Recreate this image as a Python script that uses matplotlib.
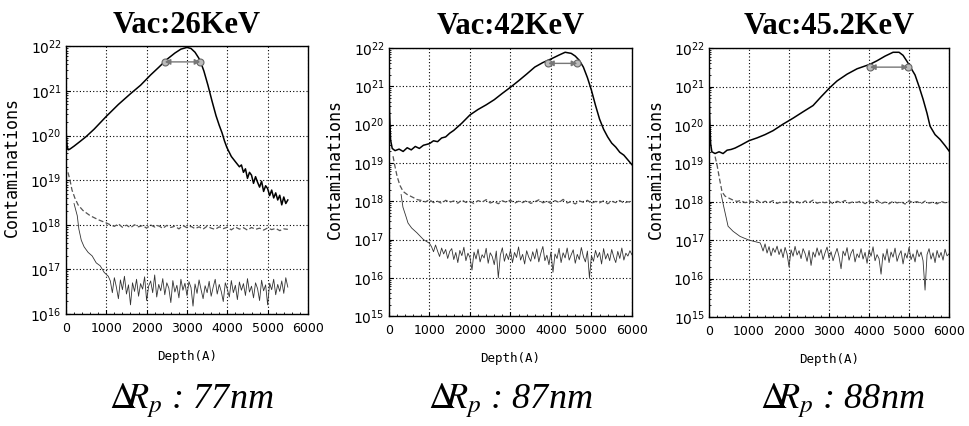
import numpy as np
from matplotlib import pyplot as plt
from matplotlib.ticker import LogLocator, NullFormatter, MultipleLocator

plt.rcParams['mathtext.fontset'] = 'stix'

# Panel texts
titles = ['Vac:26KeV', 'Vac:42KeV', 'Vac:45.2KeV']
delta_rp = ['77nm', '87nm', '88nm']
depth_ticks = [0, 1000, 2000, 3000, 4000, 5000, 6000]
y_low = [1e16, 1e15, 1e15]
y_high = 1e22

# ---- Panel 1 (26 keV) ----
p1_solid_depth = [0, 10, 30, 60, 100, 200, 350, 500, 700, 1000, 1300, 1600, 1850, 2100, 2300,
                  2500, 2700, 2850, 3000, 3100, 3200, 3320, 3420, 3520, 3620, 3720, 3800, 3870,
                  3930, 3990, 4100, 4200, 4300]
p1_solid = [1.6e20, 1.0e20, 5.6e19, 4.8e19, 5.0e19, 5.8e19, 7.4e19, 9.5e19, 1.4e20, 2.7e20,
            5.0e20, 8.7e20, 1.35e21, 2.3e21, 3.4e21, 5.1e21, 7.1e21, 8.7e21, 9.5e21, 9.0e21,
            7.4e21, 5.0e21, 2.8e21, 1.35e21, 6.0e20, 2.8e20, 1.7e20, 1.15e20, 7.6e19, 5.4e19,
            3.4e19, 2.6e19, 2.0e19]
p1_solid_tail_span = (4350, 5500)
p1_solid_tail = [2.2e19, 1.5e19, 1.8e19, 1.1e19, 1.5e19, 1.3e19, 8.5e18, 1.2e19, 9.0e18, 7.0e18,
                 9.5e18, 5.6e18, 7.5e18, 6.5e18, 4.5e18, 6.0e18, 4.0e18, 5.2e18, 3.6e18, 4.6e18,
                 2.8e18, 4.2e18, 3.0e18, 3.6e18]

p1_upper_depth = [50, 100, 150, 220, 300, 420, 600, 800, 1000]
p1_upper = [1.5e19, 1.0e19, 6.0e18, 4.0e18, 2.8e18, 2.1e18, 1.6e18, 1.3e18, 1.1e18]
p1_upper_tail_span = (1100, 5500)
p1_upper_tail = [1.0e18, 9.2e17, 1.05e18, 8.8e17, 9.8e17, 8.6e17, 1.0e18, 9.0e17, 9.6e17, 8.4e17,
                 9.9e17, 8.9e17, 9.5e17, 8.3e17, 9.7e17, 8.7e17, 9.3e17, 8.1e17, 9.6e17, 8.6e17,
                 9.2e17, 8.2e17, 9.0e17, 8.0e17, 9.3e17, 8.4e17, 7.9e17, 9.0e17, 8.2e17, 8.8e17,
                 7.7e17, 8.9e17, 8.0e17, 8.6e17, 7.6e17, 8.7e17, 7.9e17, 8.4e17, 7.6e17, 8.5e17,
                 7.8e17, 8.3e17, 7.4e17, 8.1e17, 7.9e17]

p1_lower_depth = [200, 280, 320, 380, 450, 550, 650, 750, 850, 950, 1050]
p1_lower = [3.0e18, 1.6e18, 8.0e17, 4.5e17, 3.2e17, 2.4e17, 2.0e17, 1.4e17, 1.2e17, 8.5e16, 7.0e16]
p1_lower_tail_span = (1100, 5500)
p1_lower_tail = [5.5e16, 3.0e16, 6.5e16, 4.0e16, 2.2e16, 5.8e16, 3.5e16, 7.0e16, 2.8e16, 4.5e16,
                 1.6e16, 5.0e16, 3.2e16, 6.0e16, 2.5e16, 4.8e16, 3.6e16, 6.8e16, 2.0e16, 4.2e16,
                 5.5e16, 3.0e16, 7.5e16, 2.4e16, 4.6e16, 3.3e16, 6.2e16, 2.7e16, 5.0e16, 3.8e16,
                 1.8e16, 5.6e16, 3.1e16, 4.4e16, 2.3e16, 6.0e16, 3.4e16, 4.9e16, 2.6e16, 5.3e16,
                 3.9e16, 1.5e16, 4.7e16, 2.9e16, 5.8e16, 3.5e16, 2.2e16, 4.3e16, 3.0e16, 5.4e16,
                 2.5e16, 4.0e16, 6.0e16, 2.8e16, 4.6e16, 3.2e16, 1.9e16, 5.0e16, 3.6e16, 2.4e16,
                 5.6e16, 3.0e16, 4.4e16, 2.1e16, 5.2e16, 3.4e16, 4.8e16, 2.6e16, 6.2e16, 3.1e16,
                 4.2e16, 2.3e16, 5.0e16, 3.7e16, 2.0e16, 5.7e16, 3.3e16, 4.5e16, 1.6e16, 4.9e16,
                 3.5e16, 6.0e16, 2.7e16, 4.6e16, 3.2e16, 5.5e16, 2.9e16, 6.5e16, 4.0e16]

# ---- Panel 2 (42 keV) ----
p2_solid_depth = [0, 15, 40, 80, 150, 250, 350, 450, 550, 650, 750, 850, 1000, 1100, 1200, 1300,
                  1400, 1500, 1600, 1800, 2000, 2200, 2400, 2600, 2800, 3000, 3200, 3400, 3600,
                  3800, 4000, 4200, 4350, 4500, 4600, 4700, 4800, 4900, 5000, 5100, 5200, 5300,
                  5400, 5500, 5600, 5700, 5800, 5900, 6000]
p2_solid = [1.5e21, 2.0e20, 4.0e19, 2.4e19, 2.1e19, 2.3e19, 2.0e19, 2.5e19, 2.2e19, 2.7e19,
            2.4e19, 2.9e19, 3.2e19, 3.8e19, 3.6e19, 4.5e19, 4.8e19, 6.0e19, 7.1e19, 1.1e20,
            1.8e20, 2.5e20, 3.3e20, 4.5e20, 6.6e20, 9.5e20, 1.4e21, 2.1e21, 3.2e21, 4.2e21,
            5.2e21, 6.6e21, 7.8e21, 7.3e21, 6.2e21, 4.8e21, 3.2e21, 1.7e21, 7.9e20, 3.2e20,
            1.4e20, 7.6e19, 4.8e19, 3.3e19, 2.6e19, 1.9e19, 1.6e19, 1.2e19, 9.0e18]

p2_upper_depth = [100, 150, 200, 270, 350, 450, 600, 700]
p2_upper = [1.5e19, 8.0e18, 4.5e18, 2.6e18, 1.8e18, 1.5e18, 1.25e18, 1.1e18]
p2_upper_tail_span = (800, 6000)
p2_upper_tail = [1.05e18, 9.6e17, 1.1e18, 9.2e17, 1.0e18, 8.8e17, 1.06e18, 9.4e17, 1.02e18, 8.9e17,
                 1.08e18, 9.3e17, 9.9e17, 8.7e17, 1.04e18, 9.5e17, 1.1e18, 9.0e17, 9.8e17, 8.6e17,
                 1.03e18, 9.4e17, 1.07e18, 8.9e17, 1.0e18, 9.2e17, 1.05e18, 8.8e17, 9.7e17, 1.09e18,
                 9.1e17, 1.01e18, 8.7e17, 1.04e18, 9.3e17, 1.12e18, 9.0e17, 9.8e17, 8.5e17, 1.02e18,
                 9.4e17, 1.06e18, 8.8e17, 9.9e17, 9.1e17, 1.03e18, 8.6e17, 1.0e18, 9.2e17, 1.05e18,
                 8.9e17, 9.7e17, 9.3e17]

p2_lower_depth = [300, 345, 420, 470, 560, 690, 850, 1000]
p2_lower = [1.5e18, 7.0e17, 4.0e17, 2.7e17, 2.0e17, 1.5e17, 1.0e17, 8.0e16]
p2_lower_tail_span = (1050, 6000)
p2_lower_tail = [6.5e16, 4.8e16, 7.2e16, 5.0e16, 3.6e16, 6.0e16, 4.2e16, 5.5e16, 3.2e16, 4.9e16,
                 5.8e16, 3.0e16, 4.6e16, 2.5e16, 5.2e16, 3.8e16, 6.3e16, 2.8e16, 4.4e16, 3.4e16,
                 1.6e16, 4.7e16, 3.1e16, 5.6e16, 2.6e16, 4.0e16, 3.3e16, 5.9e16, 2.4e16, 4.5e16,
                 3.6e16, 2.2e16, 5.0e16, 1.0e16, 3.9e16, 6.1e16, 2.7e16, 4.3e16, 3.0e16, 5.3e16,
                 2.5e16, 4.6e16, 3.4e16, 6.4e16, 2.9e16, 4.1e16, 2.3e16, 5.1e16, 3.5e16, 2.7e16,
                 4.8e16, 3.1e16, 5.7e16, 2.6e16, 4.4e16, 6.6e16, 2.8e16, 3.9e16, 2.2e16, 4.7e16,
                 1.4e16, 4.2e16, 3.2e16, 5.9e16, 2.5e16, 4.5e16, 3.3e16, 6.0e16, 2.9e16, 4.0e16,
                 5.4e16, 2.4e16, 4.1e16, 3.0e16, 6.2e16, 3.6e16, 2.6e16, 5.0e16, 1.0e16, 3.8e16,
                 2.7e16, 5.2e16, 3.4e16, 4.6e16, 2.3e16, 5.8e16, 3.1e16, 4.3e16, 2.8e16, 5.5e16,
                 3.5e16, 2.5e16, 4.9e16, 3.2e16, 6.0e16, 2.9e16, 4.4e16, 3.7e16, 5.1e16, 4.0e16]

# ---- Panel 3 (45.2 keV) ----
p3_solid_depth = [0, 15, 40, 70, 150, 250, 350, 450, 550, 650, 800, 1000, 1200, 1400, 1600, 1850,
                  2100, 2350, 2600, 2800, 3025, 3200, 3450, 3700, 4025, 4200, 4400, 4600, 4750,
                  4850, 4950, 5050, 5150, 5250, 5350, 5450, 5525, 5650, 5775, 5900, 6000]
p3_solid = [1.1e21, 1.6e20, 3.2e19, 2.0e19, 1.8e19, 2.0e19, 1.8e19, 2.2e19, 2.3e19, 2.5e19,
            3.0e19, 3.9e19, 4.6e19, 5.6e19, 7.1e19, 1.05e20, 1.5e20, 2.2e20, 3.2e20, 5.4e20,
            9.5e20, 1.4e21, 2.1e21, 2.9e21, 3.8e21, 4.7e21, 6.2e21, 7.8e21, 7.8e21, 6.5e21,
            4.5e21, 3.0e21, 2.0e21, 1.0e21, 4.7e20, 2.0e20, 9.3e19, 5.6e19, 4.2e19, 2.9e19,
            2.1e19]

p3_upper_depth = [150, 200, 260, 325, 400, 525]
p3_upper = [1.5e19, 9.0e18, 4.0e18, 1.8e18, 1.4e18, 1.2e18]
p3_upper_tail_span = (600, 6000)
p3_upper_tail = [1.1e18, 1.02e18, 1.08e18, 9.4e17, 1.05e18, 9.7e17, 1.1e18, 9.2e17, 1.03e18, 9.6e17,
                 1.07e18, 9.0e17, 1.0e18, 9.5e17, 1.09e18, 9.3e17, 1.02e18, 8.9e17, 1.05e18, 9.6e17,
                 1.1e18, 9.1e17, 1.0e18, 9.4e17, 1.06e18, 8.8e17, 1.03e18, 9.5e17, 1.08e18, 9.2e17,
                 1.0e18, 9.6e17, 1.05e18, 8.9e17, 1.02e18, 9.4e17, 1.1e18, 9.0e17, 9.8e17, 8.8e17,
                 1.04e18, 9.3e17, 1.0e18, 8.7e17, 1.06e18, 9.5e17, 1.01e18, 8.9e17, 1.04e18, 9.2e17,
                 9.8e17, 8.8e17, 1.02e18, 9.4e17, 9.9e17]

p3_lower_depth = [300, 360, 400, 475, 600, 775, 1000, 1275]
p3_lower = [1.6e18, 8.0e17, 5.2e17, 2.3e17, 1.7e17, 1.25e17, 1.0e17, 8.5e16]
p3_lower_tail_span = (1300, 6000)
p3_lower_tail = [7.5e16, 5.2e16, 8.0e16, 4.6e16, 6.8e16, 3.9e16, 6.2e16, 4.8e16, 7.0e16, 4.2e16,
                 5.9e16, 3.5e16, 6.5e16, 4.4e16, 2.0e16, 5.6e16, 3.8e16, 6.9e16, 4.1e16, 5.3e16,
                 3.3e16, 6.0e16, 4.5e16, 2.8e16, 5.4e16, 2.2e16, 4.9e16, 3.6e16, 6.3e16, 4.0e16,
                 5.7e16, 3.1e16, 4.7e16, 6.6e16, 3.4e16, 5.0e16, 2.9e16, 4.3e16, 6.1e16, 3.7e16,
                 1.8e16, 5.2e16, 3.9e16, 6.4e16, 3.0e16, 4.6e16, 5.8e16, 2.7e16, 4.4e16, 3.5e16,
                 6.0e16, 3.2e16, 4.8e16, 2.5e16, 5.5e16, 3.8e16, 6.7e16, 2.9e16, 4.2e16, 3.3e16,
                 1.3e16, 4.5e16, 3.0e16, 5.9e16, 2.6e16, 4.9e16, 3.6e16, 6.2e16, 2.8e16, 4.1e16,
                 5.3e16, 2.4e16, 4.6e16, 3.4e16, 6.5e16, 3.1e16, 4.4e16, 2.7e16, 5.6e16, 3.7e16,
                 4.9e16, 2.9e16, 5.0e15, 4.2e16, 6.0e16, 3.2e16, 4.7e16, 2.6e16, 5.4e16, 3.5e16,
                 4.8e16, 3.0e16, 5.8e16, 3.9e16, 4.4e16]

# Width markers (delta Rp arrows)
arrow_left = [2450, 3930, 4025]
arrow_right = [3330, 4650, 4975]
arrow_level = [4.5e21, 4.0e21, 3.2e21]


# Stick a uniformly sampled tail onto a hand-read head
def join(head_x, head_y, span=None, tail_y=None):
    x = list(head_x)
    y = list(head_y)
    if span is not None:
        x += list(np.linspace(span[0], span[1], len(tail_y)))
        y += list(tail_y)
    return x, y


solid = [join(p1_solid_depth, p1_solid, p1_solid_tail_span, p1_solid_tail),
         join(p2_solid_depth, p2_solid),
         join(p3_solid_depth, p3_solid)]
upper = [join(p1_upper_depth, p1_upper, p1_upper_tail_span, p1_upper_tail),
         join(p2_upper_depth, p2_upper, p2_upper_tail_span, p2_upper_tail),
         join(p3_upper_depth, p3_upper, p3_upper_tail_span, p3_upper_tail)]
lower = [join(p1_lower_depth, p1_lower, p1_lower_tail_span, p1_lower_tail),
         join(p2_lower_depth, p2_lower, p2_lower_tail_span, p2_lower_tail),
         join(p3_lower_depth, p3_lower, p3_lower_tail_span, p3_lower_tail)]

# axes rectangles in figure fractions, and x centre of the delta Rp text
rects = [[0.068, 0.263, 0.2495, 0.628],
         [0.401, 0.258, 0.2505, 0.629],
         [0.731, 0.256, 0.2474, 0.631]]
text_x = [0.197, 0.526, 0.868]


def draw_panel(fig, k):
    ax = fig.add_axes(rects[k])
    # upper (dashed) and lower (noisy) traces first, main profile on top
    ax.plot(*upper[k], color='#555555', lw=0.9, ls=(0, (4, 2)))
    ax.plot(*lower[k], color='#333333', lw=0.6)
    ax.plot(*solid[k], color='black', lw=1.1)

    # delta Rp width marker
    ax.annotate('', xy=(arrow_right[k], arrow_level[k]), xytext=(arrow_left[k], arrow_level[k]),
                arrowprops=dict(arrowstyle='<|-|>', color='#777777', lw=1.0,
                                mutation_scale=8, shrinkA=0, shrinkB=0))
    ax.plot([arrow_left[k], arrow_right[k]], [arrow_level[k], arrow_level[k]], ls='none',
            marker='o', ms=5, mfc='#bbbbbb', mec='#666666', mew=0.8)

    ax.set_yscale('log')
    ax.set_xlim(0, 6000)
    ax.set_ylim(y_low[k], y_high)
    ax.set_xticks(depth_ticks)
    ax.xaxis.set_minor_locator(MultipleLocator(200))
    ax.yaxis.set_major_locator(LogLocator(base=10, numticks=12))
    ax.yaxis.set_minor_locator(LogLocator(base=10, subs=np.arange(2, 10), numticks=12))
    ax.yaxis.set_minor_formatter(NullFormatter())
    ax.tick_params(which='both', direction='in', top=False, right=False)
    ax.tick_params(which='major', length=3, pad=3)
    ax.tick_params(which='minor', length=1.5)
    ax.tick_params(axis='x', labelsize=9, pad=6)
    ax.tick_params(axis='y', labelsize=10)
    ax.grid(True, which='major', color='black', ls=(0, (1, 2)), lw=0.8)
    for sp in ax.spines.values():
        sp.set_linewidth(1.0)
        sp.set_color('black')

    ax.set_title(titles[k], family='Liberation Serif', fontweight='bold', fontsize=22, pad=10)
    ax.set_xlabel('Depth(A)', family='DejaVu Sans Mono', fontsize=9)
    ax.xaxis.set_label_coords(0.5, -0.135)
    ax.set_ylabel('Contaminations', family='DejaVu Sans Mono', fontsize=12)
    ax.yaxis.set_label_coords(-0.185, 0.55)

    fig.text(text_x[k], 0.042, r'$\Delta\!\!R_p$ : ' + delta_rp[k], family='Liberation Serif',
             style='italic', fontsize=26, ha='center', va='baseline')
    return ax


fig = plt.figure(figsize=(9.7, 4.26), dpi=100)
for k in range(3):
    draw_panel(fig, k)
plt.savefig('out.png', dpi=100)
